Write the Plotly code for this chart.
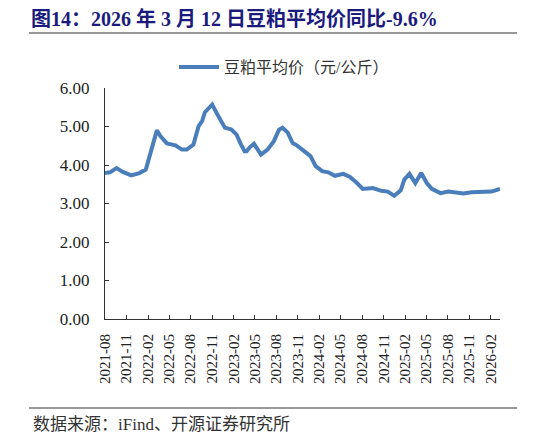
"""
Soybean meal average price chart (图14) rebuilt with Plotly.
"""

import plotly.graph_objects as go

# data
dates = [
    "2021-08-01", "2021-08-22", "2021-09-19", "2021-10-16", "2021-11-21", "2021-12-25",
    "2022-01-22", "2022-02-06", "2022-02-21", "2022-03-10", "2022-03-25", "2022-04-22",
    "2022-05-28", "2022-06-25", "2022-07-16", "2022-08-13", "2022-09-04", "2022-09-19",
    "2022-10-01", "2022-11-01", "2022-11-19", "2022-12-10", "2022-12-25", "2023-01-22",
    "2023-02-13", "2023-03-04", "2023-03-19", "2023-03-28", "2023-04-10", "2023-04-28",
    "2023-05-13", "2023-05-28", "2023-06-25", "2023-07-22", "2023-08-13", "2023-08-28",
    "2023-09-19", "2023-10-10", "2023-10-28", "2023-11-28", "2023-12-25", "2024-01-16",
    "2024-02-13", "2024-03-10", "2024-04-07", "2024-05-13", "2024-06-10", "2024-07-07",
    "2024-08-04", "2024-09-16", "2024-10-22", "2024-11-19", "2024-12-16", "2025-01-13",
    "2025-01-28", "2025-02-19", "2025-03-16", "2025-04-10", "2025-05-04", "2025-05-25",
    "2025-07-01", "2025-08-04", "2025-09-01", "2025-10-07", "2025-11-10", "2025-12-22",
    "2026-02-04", "2026-03-12",
]
prices = [
    3.79, 3.81, 3.92, 3.82, 3.73, 3.79,
    3.88, 4.20, 4.57, 4.90, 4.75, 4.56,
    4.51, 4.40, 4.40, 4.53, 5.01, 5.14,
    5.37, 5.57, 5.36, 5.10, 4.97, 4.92,
    4.79, 4.53, 4.36, 4.36, 4.46, 4.55,
    4.40, 4.27, 4.40, 4.62, 4.92, 4.97,
    4.84, 4.57, 4.51, 4.36, 4.23, 3.97,
    3.84, 3.81, 3.72, 3.77, 3.69, 3.55,
    3.38, 3.40, 3.33, 3.31, 3.20, 3.34,
    3.62, 3.77, 3.53, 3.79, 3.53, 3.38,
    3.27, 3.31, 3.29, 3.26, 3.29, 3.31,
    3.31, 3.38,
]
y_ticks = [0, 1, 2, 3, 4, 5, 6]

series_name = "豆粕平均价（元/公斤）"
title_text = "图14：2026 年 3 月 12 日豆粕平均价同比-9.6%"
source_text = "数据来源：iFind、开源证券研究所"

# the page body has an 8px margin, so work in figure pixels = picture pixels - 8
OFF = 8
W, H = 546 - OFF, 439 - OFF
L, T = 105 - OFF, 88 - OFF
R = W - (500 - OFF)
B = H - (319 - OFF)
plot_w = W - L - R
plot_h = H - T - B


def px(x):
    return (x - OFF - L) / plot_w


def py(y):
    return (H - B - (y - OFF)) / plot_h


serif = "Liberation Serif, Times New Roman, Noto Sans CJK SC, serif"

fig = go.Figure()
fig.add_trace(
    go.Scatter(
        x=dates,
        y=prices,
        mode="lines",
        name=series_name,
        line=dict(color="#4A7EBB", width=4),
    )
)

fig.update_layout(
    width=W,
    height=H,
    margin=dict(l=L, r=R, t=T, b=B),
    paper_bgcolor="white",
    plot_bgcolor="white",
    font=dict(family=serif, size=15, color="#222222"),
    showlegend=True,
    legend=dict(
        orientation="h",
        x=px(174),
        xanchor="left",
        y=py(67),
        yanchor="middle",
        font=dict(size=16, color="#333333", family=serif),
        itemwidth=40,
    ),
    title=dict(
        text=f"<b>{title_text}</b>",
        x=(31 - OFF) / W,
        xanchor="left",
        y=1 - (19 - OFF) / H,
        yanchor="middle",
        font=dict(size=20, color="#1B1B7E", family=serif),
    ),
)

fig.update_xaxes(
    type="date",
    range=["2021-08-01", "2026-03-12"],
    tick0="2021-08-01",
    dtick="M3",
    tickformat="%Y-%m",
    tickangle=-90,
    ticks="inside",
    ticklen=4,
    tickcolor="#333333",
    ticklabelstandoff=8,
    showline=True,
    linecolor="#333333",
    linewidth=1,
    showgrid=False,
    zeroline=False,
    tickfont=dict(size=15, color="#222222"),
)
fig.update_yaxes(
    range=[0, 6],
    tickvals=y_ticks,
    tickformat=".2f",
    ticks="inside",
    ticklen=4,
    tickcolor="#333333",
    ticklabelstandoff=11,
    showline=True,
    linecolor="#333333",
    linewidth=1,
    showgrid=False,
    zeroline=False,
    tickfont=dict(size=17, color="#222222"),
)

# rules under the title and above the source note
for y_line in (33, 408):
    fig.add_shape(
        type="line",
        xref="paper",
        yref="paper",
        x0=px(29),
        x1=px(517),
        y0=py(y_line),
        y1=py(y_line),
        line=dict(color="#777777", width=1.5),
    )

fig.add_annotation(
    text=source_text,
    xref="paper",
    yref="paper",
    x=px(31),
    y=py(424),
    xanchor="left",
    yanchor="middle",
    showarrow=False,
    font=dict(size=17, color="#333333", family=serif),
)

fig.write_html("out.html")
